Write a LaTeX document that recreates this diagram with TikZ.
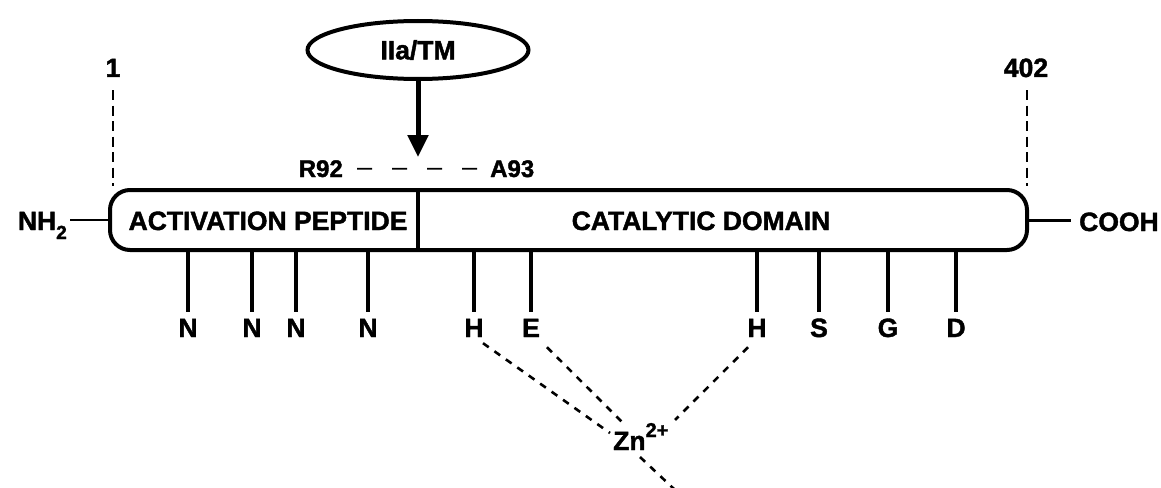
\documentclass[tikz,border=0pt]{standalone}
\usepackage{fontspec}
\setmainfont{Liberation Sans}[BoldFeatures={FakeBold=1.6}]
\usetikzlibrary{shapes.geometric,arrows.meta,calc}
\newcommand\bigbold{\bfseries\fontsize{26.5}{28}\selectfont}
\newcommand\midbold{\bfseries\fontsize{24}{26}\selectfont}
\begin{document}
\begin{tikzpicture}[x=1pt,y=-1pt,
  lbl/.style={font=\bigbold, inner sep=0pt},
  res/.style={lbl, anchor=base, text height=18.6pt, text depth=0pt},
  barline/.style={line width=4pt},
  tick/.style={line width=4.5pt},
  vdash/.style={line width=2.8pt, dash pattern=on 10pt off 5.5pt},
  zdash/.style={line width=2.6pt, dash pattern=on 7pt off 7pt},
  cleave/.style={line width=1.8pt, dash pattern=on 15pt off 20pt},
  link/.style={line width=2pt},
  cut arrow/.style={line width=5pt, -{Triangle[length=22pt,width=20pt]}}]
\useasboundingbox (0,0) rectangle (1161,487);

% protein bar with its two domains
\node[draw, barline, rounded corners=20pt, minimum width=917pt,
      minimum height=60pt, inner sep=0pt] (bar) at (568.5,220) {};
\node[lbl, anchor=base] (ap) at (268,230) {ACTIVATION PEPTIDE};
\node[lbl, anchor=base] (cd) at (701,230) {CATALYTIC DOMAIN};

% termini
\node[lbl, anchor=base east] (nh2) at (67,230)
  {NH\raisebox{-9pt}{\fontsize{19}{19}\selectfont 2}};
\draw[link] ([xshift=3pt]nh2.east |- bar.west) -- (bar.west);
\node[lbl, anchor=base west] (cooh) at (1079,231) {COOH};
\draw[line width=3pt] (bar.east) -- (bar.east -| {(1071,0)});

% residue numbering
\node[lbl, anchor=base] (one) at (113,77) {1};
\node[lbl, anchor=base] (last) at (1026,77) {402};
\draw[vdash] ($(one.base)+(0,13)$) -- ($(one.base |- bar.north)+(0,-2)$);
\draw[vdash] ($(last.base)+(1,13)$) -- ($(last.base |- bar.north)+(1,-2)$);

% activating enzyme and cleavage site
\node[draw, ellipse, line width=4pt, minimum width=221pt, minimum height=58pt,
      inner sep=0pt, font=\bigbold] (enz) at (418,50) {IIa/TM};
\coordinate (cut) at (418,157);
\draw[cut arrow] (enz.south) -- (cut);
\draw[barline] (bar.north -| cut) -- (bar.south -| cut);
\node[font=\midbold, inner sep=0pt, anchor=base east] (r92) at (343,177) {R92};
\node[font=\midbold, inner sep=0pt, anchor=base west] (a93) at (490,177) {A93};
\draw[cleave] ([xshift=14pt]r92.east) -- ([xshift=-13pt]a93.west);

% side-chain residues
\foreach \nm/\x/\t in {n1/188/N, n2/252/N, n3/296/N, n4/368/N, hL/474/H,
                       e/531/E, hR/757/H, s/819/S, g/888/G, d/956/D} {
  \node[res] (\nm) at (\x,337) {\t};
  \draw[tick] (bar.south -| \nm) -- ([yshift=6pt]\nm.north);
}

% zinc coordination
\node[lbl, anchor=base west] (zn) at (613,450)
  {Zn\raisebox{13pt}{\fontsize{20}{20}\selectfont 2+}};
\coordinate (zend) at (674,489);
\draw[zdash] ($(hL.south)+(9,6)$) -- ($(zn.base west)+(-3,-17)$);
\draw[zdash] ($(e.south)+(16,10)$) -- ($(zn.base west)+(10,-27)$);
\draw[zdash] ($(hR.south)+(-9,10)$) -- ($(zn.base west)+(62,-30)$);
\draw[zdash] ($(zn.base west)+(27,7)$) -- (zend);
\end{tikzpicture}
\end{document}
